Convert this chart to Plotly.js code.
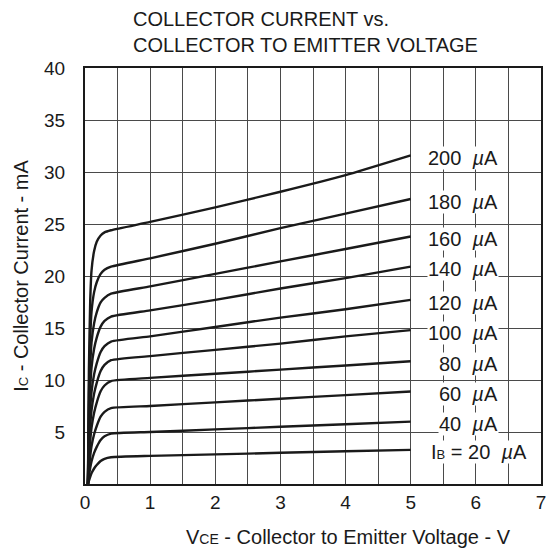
<!DOCTYPE html>
<html>
<head>
<meta charset="utf-8">
<script src="https://cdn.plot.ly/plotly-3.0.1.min.js"></script>
<style>html,body{margin:0;padding:0;background:#fff}#chart{width:548px;height:552px}</style>
</head>
<body>
<div id="chart"></div>
<script>
// Collector-emitter voltage samples (V)
const vce = [0.045, 0.06, 0.08, 0.1, 0.14, 0.18, 0.24, 0.3, 0.4, 1, 2, 3, 4, 5];

// Base-current curve labels (µA)
const baseCurrents = ["200", "180", "160", "140", "120", "100", "80", "60", "40", "20"];

// Collector current (mA) for each base current
const ic200 = [0, 11.0, 17.6, 20.5, 22.4, 23.3, 23.9, 24.2, 24.4, 25.2, 26.6, 28.1, 29.7, 31.6];
const ic180 = [0, 8.65, 14.0, 16.55, 18.45, 19.4, 20.2, 20.6, 20.9, 21.7, 23.1, 24.6, 26.0, 27.4];
const ic160 = [0, 6.9, 11.36, 13.6, 15.46, 16.5, 17.46, 17.9, 18.3, 19.0, 20.2, 21.4, 22.6, 23.8];
const ic140 = [0, 5.49, 9.19, 11.19, 13.0, 14.07, 15.13, 15.68, 16.1, 16.7, 17.7, 18.8, 19.8, 20.9];
const ic120 = [0, 4.18, 7.15, 8.85, 10.55, 11.6, 12.7, 13.26, 13.7, 14.2, 15.1, 16.0, 16.8, 17.7];
const ic100 = [0, 3.15, 5.57, 7.07, 8.69, 9.73, 10.86, 11.45, 11.9, 12.3, 12.9, 13.5, 14.2, 14.8];
const ic80  = [0, 2.27, 4.15, 5.4, 6.85, 7.83, 8.91, 9.47, 9.9, 10.2, 10.6, 11.0, 11.4, 11.8];
const ic60  = [0, 1.41, 2.69, 3.63, 4.78, 5.58, 6.47, 6.94, 7.3, 7.5, 7.85, 8.2, 8.55, 8.9];
const ic40  = [0, 0.76, 1.55, 2.17, 2.99, 3.57, 4.23, 4.59, 4.85, 5.0, 5.25, 5.5, 5.75, 6.0];
const ic20  = [0, 0.31, 0.69, 1.03, 1.49, 1.82, 2.21, 2.42, 2.57, 2.7, 2.85, 3.0, 3.15, 3.28];

const series = [ic200, ic180, ic160, ic140, ic120, ic100, ic80, ic60, ic40, ic20];

// Axis tick labels
const xTicks = [0, 1, 2, 3, 4, 5, 6, 7];
const yTicks = [5, 10, 15, 20, 25, 30, 35, 40];

const FONT = "Liberation Sans, Arial, Helvetica, sans-serif";
const INK = "#1a1a1a";

// x grid every half volt; labels only on whole volts
const xGridVals = [], xGridText = [];
xTicks.forEach((t, i) => {
  xGridVals.push(t); xGridText.push(String(t));
  if (i < xTicks.length - 1) { xGridVals.push(t + 0.5); xGridText.push(""); }
});

const traces = series.map((ys, i) => ({
  type: "scatter",
  mode: "lines",
  x: vce,
  y: ys,
  name: baseCurrents[i] + " µA",
  line: { color: INK, width: 2.4, shape: "spline", smoothing: 0.5 },
  hoverinfo: "x+y+name"
}));

const annotations = series.map((ys, i) => {
  const last = ys[ys.length - 1];
  const isLast = i === series.length - 1;
  return {
    xref: "x", yref: "y",
    x: isLast ? 6.8 : 6.35,
    y: last - 0.25,
    xanchor: "right", yanchor: "middle",
    text: (isLast ? "I<span style='font-size:13px'>B</span> = " : "") +
          baseCurrents[i] + "&nbsp;&nbsp;<i>µ</i>A",
    showarrow: false,
    bgcolor: "#ffffff",
    borderpad: 0,
    font: { family: FONT, size: 20, color: INK }
  };
});

// x-axis title (placed as in the reference, right of centre)
annotations.push({
  xref: "paper", yref: "paper",
  x: (348 - 85) / 456, y: -0.128,
  xanchor: "center", yanchor: "middle",
  text: "V<span style='font-size:14px'>CE</span> - Collector to Emitter Voltage - V",
  showarrow: false,
  font: { family: FONT, size: 20, color: INK }
});

const layout = {
  width: 548, height: 552,
  margin: { l: 85, r: 7, t: 68, b: 68 },
  paper_bgcolor: "#fff", plot_bgcolor: "#fff",
  showlegend: false,
  font: { family: FONT, size: 18, color: INK },
  title: {
    text: "COLLECTOR CURRENT vs.<br>COLLECTOR TO EMITTER VOLTAGE",
    font: { family: FONT, size: 20, color: INK },
    xref: "container", x: 133 / 548, xanchor: "left",
    yref: "container", y: 0.952, yanchor: "top"
  },
  xaxis: {
    range: [0, 7],
    tickvals: xGridVals,
    ticktext: xGridText,
    ticks: "",
    ticklabelstandoff: 0,
    showgrid: true, gridcolor: "#4a4a4a", gridwidth: 1,
    zeroline: false,
    showline: true, mirror: true, linecolor: INK, linewidth: 2,
    tickfont: { family: FONT, size: 19, color: INK }
  },
  yaxis: {
    range: [0, 40],
    tickvals: yTicks,
    ticktext: yTicks.map(String),
    ticks: "",
    ticklabelstandoff: 14,
    showgrid: true, gridcolor: "#4a4a4a", gridwidth: 1,
    zeroline: false,
    showline: true, mirror: true, linecolor: INK, linewidth: 2,
    tickfont: { family: FONT, size: 19, color: INK },
    title: {
      text: "I<span style='font-size:13px'>C</span> - Collector Current - mA",
      font: { family: FONT, size: 20, color: INK },
      standoff: 10
    }
  },
  annotations: annotations
};

Plotly.newPlot("chart", traces, layout, { displayModeBar: false, staticPlot: true });
</script>
</body>
</html>
